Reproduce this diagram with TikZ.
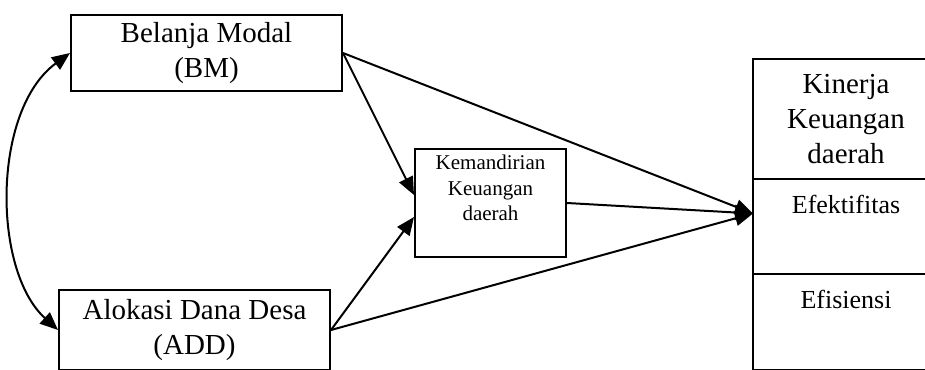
\documentclass[tikz,border=0pt]{standalone}
\usepackage{fontspec}
\setmainfont{Liberation Serif}
\usetikzlibrary{arrows.meta}
\usetikzlibrary{positioning}
\usetikzlibrary{calc}

\begin{document}
\begin{tikzpicture}[x=1pt, y=-1pt,
    box/.style={draw, line width=2pt, align=center, inner sep=0pt},
    big/.style={font=\fontsize{29}{35}\selectfont},
    small/.style={font=\fontsize{21}{25.5}\selectfont},
    mid/.style={font=\fontsize{26}{31}\selectfont},
    part/.style={draw, line width=2pt, minimum width=186pt, inner sep=0pt, outer sep=0pt},
    arr/.style={line width=2pt, -{Triangle[length=18pt, width=15pt]}},
    dbl/.style={line width=2pt, {Triangle[length=18pt, width=15pt]}-{Triangle[length=18pt, width=15pt]}}]
  \useasboundingbox (0,0) rectangle (925,369);
  % variabel bebas
  \node[box, big, minimum width=271pt, minimum height=76pt] (bm) at (206.5,53) {Belanja Modal\\(BM)};
  \node[box, big, minimum width=271pt, minimum height=80pt] (add) at (194.5,330) {Alokasi Dana Desa\\(ADD)};
  % intervening
  \node[box, minimum width=151pt, minimum height=108pt] (kd) at (490.5,203) {};
  \node[small, align=center, inner sep=0pt, below=7pt of kd.north] (kdtext) {Kemandirian\\Keuangan\\daerah};
  % variabel terikat
  \node[part, big, align=center, minimum height=120pt, anchor=north west] (kin) at (753,59) {Kinerja\\Keuangan\\daerah};
  \node[part, minimum height=95pt, below=0pt of kin] (efek) {};
  \node[part, minimum height=96pt, below=0pt of efek] (efis) {};
  \node[mid, inner sep=0pt, below=16pt of efek.north] (efektxt) {Efektifitas};
  \node[mid, inner sep=0pt, below=16pt of efis.north] (efistxt) {Efisiensi};
  \coordinate (tgt) at ($(efek.west)+(0,-13)$);
  % panah
  \draw[dbl] (bm.west) .. controls (-8,110) and (-8,270) .. (add.west);
  \draw[arr] (bm.east) -- ([yshift=8pt]kd.west);
  \draw[arr] (add.east) -- ([yshift=-14pt]kd.west);
  \draw[arr] (bm.east) -- (tgt);
  \draw[arr] (kd.east) -- (tgt);
  \draw[arr] (add.east) -- (tgt);
\end{tikzpicture}
\end{document}
